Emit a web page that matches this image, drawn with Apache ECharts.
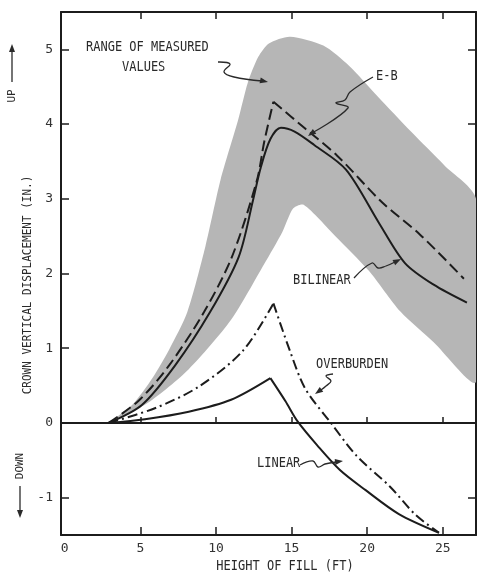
<!DOCTYPE html>
<html><head><meta charset="utf-8">
<script src="https://cdn.jsdelivr.net/npm/echarts@6/dist/echarts.min.js"></script>
<style>html,body{margin:0;padding:0;background:#fff}#c{width:480px;height:578px}</style>
</head><body><div id="c"></div>
<script>
// ---- data ----
const xTickLabels = [0, 5, 10, 15, 20, 25];
const yTickLabels = [-1, 0, 1, 2, 3, 4, 5];

const rangeUpperX = [2.9, 4.5, 5.8, 6.9, 8.1, 9.3, 10.3, 11.46, 12.1, 12.8, 13.5, 14.9, 17.1, 18.8, 20.7, 22.9, 25.1, 27.2];
const rangeUpperY = [0, 0.25, 0.6, 0.98, 1.48, 2.36, 3.25, 4.05, 4.55, 4.9, 5.08, 5.17, 5.05, 4.78, 4.37, 3.9, 3.45, 3.0];
const rangeLowerX = [2.9, 5.5, 8.2, 11.0, 13.2, 14.4, 15.1, 15.8, 17.9, 20.1, 22.2, 24.4, 27.2];
const rangeLowerY = [0, 0.27, 0.72, 1.38, 2.13, 2.56, 2.87, 2.92, 2.5, 2.04, 1.49, 1.08, 0.55];

const ebX = [2.9, 4.9, 6.9, 9.2, 11.05, 12.7, 13.2, 13.8, 15.9, 18.0, 21.0, 23.5, 26.4];
const ebY = [0, 0.30, 0.77, 1.48, 2.22, 3.24, 3.77, 4.3, 3.94, 3.58, 2.95, 2.52, 1.93];

const bilinearX = [2.9, 5.1, 7.3, 9.6, 11.5, 12.45, 12.95, 13.6, 14.3, 15.2, 16.5, 18.6, 20.8, 22.5, 24.4, 26.6];
const bilinearY = [0, 0.24, 0.77, 1.48, 2.22, 2.98, 3.41, 3.8, 3.95, 3.9, 3.72, 3.39, 2.67, 2.14, 1.85, 1.61];

const overburdenX = [2.9, 6.0, 8.9, 11.8, 13.8, 14.9, 15.9, 17.6, 19.3, 21.5, 23.2, 24.75];
const overburdenY = [0, 0.2, 0.49, 0.97, 1.6, 0.96, 0.46, 0.0, -0.44, -0.85, -1.23, -1.47];

const linearX = [2.9, 5.3, 8.2, 11.0, 13.6, 14.6, 15.4, 16.7, 18.2, 19.9, 22.1, 24.75];
const linearY = [0, 0.05, 0.15, 0.31, 0.6, 0.29, 0.02, -0.3, -0.63, -0.9, -1.22, -1.47];

// ---- helpers ----
function pts(xs, ys) { return xs.map((x, i) => [x, ys[i]]); }
function splitAtPeak(xs, ys) {
  const k = ys.indexOf(Math.max.apply(null, ys));
  const p = pts(xs, ys);
  return [p.slice(0, k + 1), p.slice(k)];
}
const INK = '#1c1c1c';
const FONT = 'DejaVu Sans Mono';

function lineSeries(data, dash, smooth) {
  return {
    type: 'line', data: data, symbol: 'none', smooth: smooth, silent: true, z: 5,
    lineStyle: { color: INK, width: 2, type: dash || 'solid' }
  };
}

const series = [];
series.push({
  type: 'custom', coordinateSystem: 'cartesian2d', silent: true, clip: true, z: 1,
  data: [[0, 0]],
  renderItem: function (params, api) {
    const up = pts(rangeUpperX, rangeUpperY).map(p => api.coord(p));
    const lo = pts(rangeLowerX, rangeLowerY).map(p => api.coord(p)).reverse();
    return { type: 'polygon', shape: { points: up.concat(lo), smooth: 0.25 }, style: { fill: '#b6b6b6' } };
  }
});
splitAtPeak(ebX, ebY).forEach(d => series.push(lineSeries(d, [11, 5], 0.3)));
series.push(lineSeries(pts(bilinearX, bilinearY), 'solid', 0.3));
splitAtPeak(overburdenX, overburdenY).forEach(d => series.push(lineSeries(d, [10, 4, 2, 4], 0.3)));
splitAtPeak(linearX, linearY).forEach(d => series.push(lineSeries(d, 'solid', 0.3)));

const axisLineStyle = { color: INK, width: 2 };
const xRange = { min: -0.25, max: 27.2 };
const yRange = { min: -1.5, max: 5.5 };
const innerTicks = [5, 10, 15, 20, 25];

const chart = echarts.init(document.getElementById('c'), null, { renderer: 'canvas' });
chart.setOption({
  animation: false,
  backgroundColor: '#fff',
  grid: { left: 61, right: 4, top: 12, bottom: 43 },
  xAxis: [
    Object.assign({ type: 'value', position: 'bottom',
      axisLine: { onZero: false, lineStyle: axisLineStyle },
      axisTick: { inside: true, length: 8, customValues: innerTicks, lineStyle: { color: INK, width: 1.5 } },
      axisLabel: { customValues: xTickLabels, margin: 7, color: '#333', fontFamily: FONT, fontSize: 13 },
      splitLine: { show: false } }, xRange),
    Object.assign({ type: 'value', position: 'top',
      axisLine: { onZero: false, lineStyle: axisLineStyle },
      axisTick: { inside: true, length: 7, customValues: innerTicks, lineStyle: { color: INK, width: 1.5 } },
      axisLabel: { show: false }, splitLine: { show: false } }, xRange),
    Object.assign({ type: 'value', position: 'bottom',
      axisLine: { onZero: true, lineStyle: axisLineStyle },
      axisTick: { inside: true, length: 6, customValues: innerTicks, lineStyle: { color: INK, width: 1.5 } },
      axisLabel: { show: false }, splitLine: { show: false } }, xRange)
  ],
  yAxis: [
    Object.assign({ type: 'value', position: 'left',
      axisLine: { onZero: false, lineStyle: axisLineStyle },
      axisTick: { inside: true, length: 8, customValues: yTickLabels, lineStyle: { color: INK, width: 1.5 } },
      axisLabel: { customValues: yTickLabels, margin: 8, color: '#333', fontFamily: FONT, fontSize: 13 },
      splitLine: { show: false } }, yRange),
    Object.assign({ type: 'value', position: 'right',
      axisLine: { onZero: false, lineStyle: axisLineStyle },
      axisTick: { inside: true, length: 8, customValues: yTickLabels, lineStyle: { color: INK, width: 1.5 } },
      axisLabel: { show: false }, splitLine: { show: false } }, yRange)
  ],
  series: series
});

// ---- annotations ----
function txt(x, y, s, opts) {
  return Object.assign({ type: 'text', x: x, y: y, z: 20, silent: true,
    style: { text: s, fill: '#2a2a2a', font: '12px "' + FONT + '"', textAlign: 'left', textVerticalAlign: 'middle' } }, opts || {});
}
function poly(points) {
  return { type: 'polyline', z: 20, silent: true, shape: { points: points, smooth: 0.4 },
    style: { stroke: '#2a2a2a', lineWidth: 1.3, fill: null } };
}
function head(tip, from) {
  const dx = tip[0] - from[0], dy = tip[1] - from[1];
  const L = Math.sqrt(dx * dx + dy * dy), ux = dx / L, uy = dy / L;
  const b = [tip[0] - ux * 8, tip[1] - uy * 8];
  return { type: 'polygon', z: 20, silent: true,
    shape: { points: [tip, [b[0] - uy * 3, b[1] + ux * 3], [b[0] + uy * 3, b[1] - ux * 3]] },
    style: { fill: '#2a2a2a' } };
}
const g = [];
g.push(txt(86, 47, 'RANGE OF MEASURED', { scaleY: 1.15 }));
g.push(txt(122, 67, 'VALUES', { scaleY: 1.15 }));
g.push(poly([[218, 62], [230, 64], [224, 72], [234, 77], [262, 81]]));
g.push(head([268, 82], [258, 80]));

g.push(txt(376, 76, 'E-B', { scaleY: 1.15 }));
g.push(poly([[373, 77], [350, 92], [345, 100], [336, 103], [348, 108], [312, 133]]));
g.push(head([308, 136], [318, 129]));

g.push(txt(293, 280, 'BILINEAR', { scaleY: 1.15 }));
g.push(poly([[354, 278], [372, 263], [378, 268], [386, 266], [395, 262]]));
g.push(head([401, 259], [393, 263]));

g.push(txt(316, 364, 'OVERBURDEN', { scaleY: 1.15 }));
g.push(poly([[333, 374], [326, 376], [331, 381], [326, 386], [321, 390]]));
g.push(head([315, 394], [322, 389]));

g.push(txt(257, 463, 'LINEAR', { scaleY: 1.15 }));
g.push(poly([[300, 465], [313, 461], [318, 467], [325, 464], [336, 462]]));
g.push(head([343, 461], [335, 462]));

// axis titles
g.push(txt(285, 566, 'HEIGHT OF FILL (FT)', { scaleY: 1.15, style: { text: 'HEIGHT OF FILL (FT)', fill: '#2a2a2a', font: '12px "' + FONT + '"', textAlign: 'center', textVerticalAlign: 'middle' } }));
g.push({ type: 'text', x: 28, y: 285, rotation: Math.PI / 2, z: 20, silent: true, scaleY: 1.1,
  style: { text: 'CROWN VERTICAL DISPLACEMENT (IN.)', fill: '#2a2a2a', font: '11px "' + FONT + '"', textAlign: 'center', textVerticalAlign: 'middle' } });
g.push({ type: 'text', x: 12, y: 96, rotation: Math.PI / 2, z: 20, silent: true,
  style: { text: 'UP', fill: '#2a2a2a', font: '11px "' + FONT + '"', textAlign: 'center', textVerticalAlign: 'middle' } });
g.push({ type: 'line', z: 20, silent: true, shape: { x1: 12, y1: 82, x2: 12, y2: 50 }, style: { stroke: '#2a2a2a', lineWidth: 1.3 } });
g.push(head([12, 44], [12, 52]));
g.push({ type: 'text', x: 20, y: 466, rotation: Math.PI / 2, z: 20, silent: true,
  style: { text: 'DOWN', fill: '#2a2a2a', font: '11px "' + FONT + '"', textAlign: 'center', textVerticalAlign: 'middle' } });
g.push({ type: 'line', z: 20, silent: true, shape: { x1: 20, y1: 486, x2: 20, y2: 512 }, style: { stroke: '#2a2a2a', lineWidth: 1.3 } });
g.push(head([20, 518], [20, 510]));

chart.setOption({ graphic: g });
</script>
</body></html>
